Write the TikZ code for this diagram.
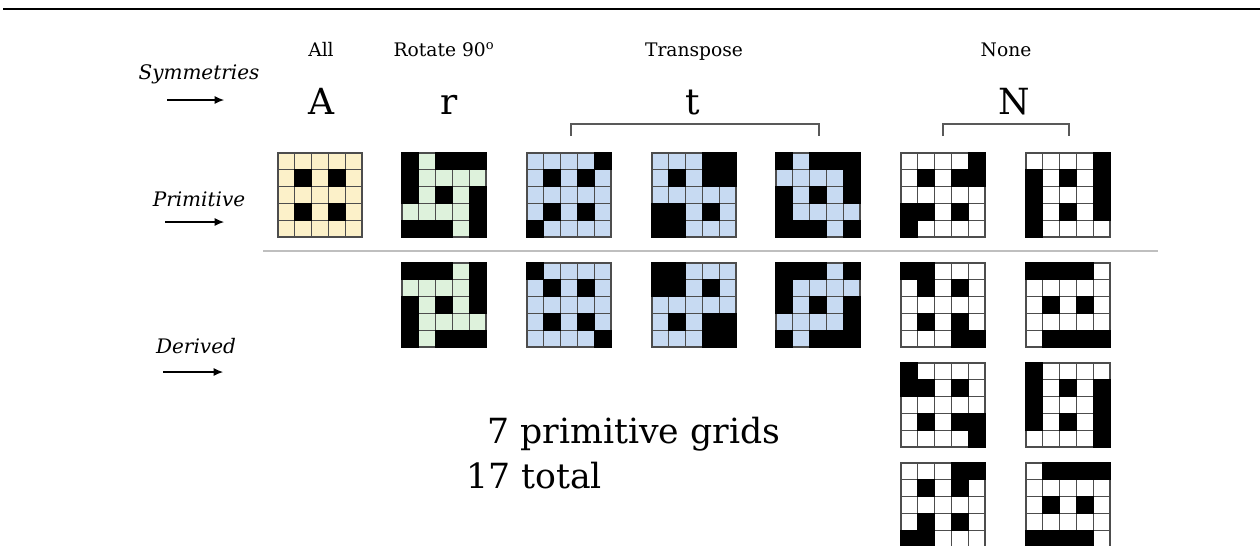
\documentclass[tikz,border=0pt]{standalone}
\usepackage{fontspec}
\setmainfont{DejaVu Serif}
\usetikzlibrary{arrows.meta}
\definecolor{yel}{HTML}{FCF1C9}
\definecolor{grn}{HTML}{DEF2DC}
\definecolor{blu}{HTML}{C7DAF2}
\definecolor{gln}{HTML}{4D4D4D}
\definecolor{sepgray}{HTML}{BFBFBF}
\definecolor{brk}{HTML}{595959}
\tikzset{
  lbl/.style={font=\fontsize{15}{18}\selectfont\itshape, inner sep=0pt, anchor=base},
  hdr/.style={font=\fontsize{14}{17}\selectfont, inner sep=0pt, anchor=base},
  big/.style={font=\fontsize{27}{32}\selectfont, inner sep=0pt, anchor=base},
  note/.style={font=\fontsize{26}{31}\selectfont, inner sep=0pt, anchor=base west},
  arr/.style={-{Latex[length=7pt,width=6pt]}, line width=0.8pt},
  brack/.style={draw=brk, line width=1pt},
}
\newcommand\cellgrid[5]{%
  \coordinate (#1) at (#2,#3);
  \foreach \rowlist [count=\r from 0] in {#5} {
    \foreach \v [count=\c from 0] in \rowlist {
      \ifnum\v=0
        \filldraw[fill=#4, draw=gln, line width=0.8pt] (#2+\c*16.8,#3+\r*16.8) rectangle ++(16.8,16.8);
      \fi
    }
  }
  \foreach \rowlist [count=\r from 0] in {#5} {
    \foreach \v [count=\c from 0] in \rowlist {
      \ifnum\v=1
        \filldraw[fill=black, draw=black, line width=0.8pt] (#2+\c*16.8,#3+\r*16.8) rectangle ++(16.8,16.8);
      \fi
    }
  }
}
\begin{document}
\begin{tikzpicture}[x=0.75pt,y=-0.75pt]
\useasboundingbox (0,0) rectangle (1260,546);
\clip (0,0) rectangle (1260,546);
\fill[white] (0,0) rectangle (1260,546);
% top rule
\coordinate (topL) at (3,9);
\coordinate (topR) at (1260,9);
\draw[line width=1.5pt] (topL) -- (topR);
% row labels
\node[lbl] (sym) at (199,79) {Symmetries};
\coordinate (symA) at (167,100); \coordinate (symB) at (224,100);
\draw[arr] (symA) -- (symB);
\node[lbl] (prim) at (199,206) {Primitive};
\coordinate (primA) at (165,222); \coordinate (primB) at (224,222);
\draw[arr] (primA) -- (primB);
\node[lbl] (der) at (196,353) {Derived};
\coordinate (derA) at (163,372); \coordinate (derB) at (223,372);
\draw[arr] (derA) -- (derB);
% headers
\node[hdr] (hAll) at (321,56) {All};
\node[hdr] (hRot) at (444,56) {Rotate 90\textsuperscript{o}};
\node[hdr] (hTr) at (694,56) {Transpose};
\node[hdr] (hNone) at (1006,56) {None};
\node[big] (bA) at (321,114) {A};
\node[big] (br) at (449,114) {r};
\node[big] (bt) at (693,114) {t};
\node[big] (bN) at (1014,114) {N};
% brackets
\coordinate (tb1) at (571,136); \coordinate (tb2) at (571,124);
\coordinate (tb3) at (819,124); \coordinate (tb4) at (819,136);
\draw[brack] (tb1) -- (tb2) -- (tb3) -- (tb4);
\coordinate (nb1) at (943,136); \coordinate (nb2) at (943,124);
\coordinate (nb3) at (1069,124); \coordinate (nb4) at (1069,136);
\draw[brack] (nb1) -- (nb2) -- (nb3) -- (nb4);
% separator
\coordinate (sepL) at (263,251); \coordinate (sepR) at (1158,251);
\draw[sepgray, line width=1.5pt] (sepL) -- (sepR);
% primitive grids
\cellgrid{gA}{278}{153}{yel}{{0,0,0,0,0},{0,1,0,1,0},{0,0,0,0,0},{0,1,0,1,0},{0,0,0,0,0}}
\cellgrid{grP}{402}{153}{grn}{{1,0,1,1,1},{1,0,0,0,0},{1,0,1,0,1},{0,0,0,0,1},{1,1,1,0,1}}
\cellgrid{gt1P}{527}{153}{blu}{{0,0,0,0,1},{0,1,0,1,0},{0,0,0,0,0},{0,1,0,1,0},{1,0,0,0,0}}
\cellgrid{gt2P}{652}{153}{blu}{{0,0,0,1,1},{0,1,0,1,1},{0,0,0,0,0},{1,1,0,1,0},{1,1,0,0,0}}
\cellgrid{gt3P}{776}{153}{blu}{{1,0,1,1,1},{0,0,0,0,1},{1,0,1,0,1},{1,0,0,0,0},{1,1,1,0,1}}
\cellgrid{gN1P}{901}{153}{white}{{0,0,0,0,1},{0,1,0,1,1},{0,0,0,0,0},{1,1,0,1,0},{1,0,0,0,0}}
\cellgrid{gN2P}{1026}{153}{white}{{0,0,0,0,1},{1,0,1,0,1},{1,0,0,0,1},{1,0,1,0,1},{1,0,0,0,0}}
% derived grids
\cellgrid{grD}{402}{263}{grn}{{1,1,1,0,1},{0,0,0,0,1},{1,0,1,0,1},{1,0,0,0,0},{1,0,1,1,1}}
\cellgrid{gt1D}{527}{263}{blu}{{1,0,0,0,0},{0,1,0,1,0},{0,0,0,0,0},{0,1,0,1,0},{0,0,0,0,1}}
\cellgrid{gt2D}{652}{263}{blu}{{1,1,0,0,0},{1,1,0,1,0},{0,0,0,0,0},{0,1,0,1,1},{0,0,0,1,1}}
\cellgrid{gt3D}{776}{263}{blu}{{1,1,1,0,1},{1,0,0,0,0},{1,0,1,0,1},{0,0,0,0,1},{1,0,1,1,1}}
\cellgrid{gN1Da}{901}{263}{white}{{1,1,0,0,0},{0,1,0,1,0},{0,0,0,0,0},{0,1,0,1,0},{0,0,0,1,1}}
\cellgrid{gN2Da}{1026}{263}{white}{{1,1,1,1,0},{0,0,0,0,0},{0,1,0,1,0},{0,0,0,0,0},{0,1,1,1,1}}
\cellgrid{gN1Db}{901}{363}{white}{{1,0,0,0,0},{1,1,0,1,0},{0,0,0,0,0},{0,1,0,1,1},{0,0,0,0,1}}
\cellgrid{gN2Db}{1026}{363}{white}{{1,0,0,0,0},{1,0,1,0,1},{1,0,0,0,1},{1,0,1,0,1},{0,0,0,0,1}}
\cellgrid{gN1Dc}{901}{463}{white}{{0,0,0,1,1},{0,1,0,1,0},{0,0,0,0,0},{0,1,0,1,0},{1,1,0,0,0}}
\cellgrid{gN2Dc}{1026}{463}{white}{{0,1,1,1,1},{0,0,0,0,0},{0,1,0,1,0},{0,0,0,0,0},{1,1,1,1,0}}
% notes
\node[note] (n1) at (487,443) {7 primitive grids};
\node[note] (n2) at (466,488) {17 total};
\end{tikzpicture}
\end{document}
